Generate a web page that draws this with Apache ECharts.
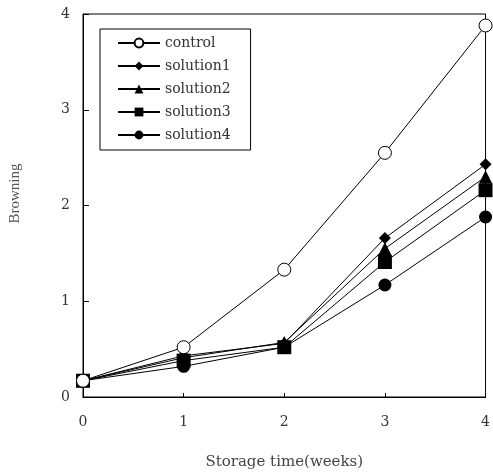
<!DOCTYPE html>
<html><head><meta charset="utf-8">
<script src="https://cdn.jsdelivr.net/npm/echarts@6/dist/echarts.min.js"></script>
<style>html,body{margin:0;padding:0;background:#fff}#c{width:493px;height:475px}</style>
</head><body><div id="c"></div>
<script>
var weeks = [0, 1, 2, 3, 4];
var control = [0.17, 0.52, 1.33, 2.55, 3.88];
var solution1 = [0.17, 0.43, 0.56, 1.66, 2.43];
var solution2 = [0.17, 0.41, 0.57, 1.55, 2.30];
var solution3 = [0.17, 0.38, 0.52, 1.41, 2.16];
var solution4 = [0.17, 0.32, 0.52, 1.17, 1.88];
var seriesNames = ['control', 'solution1', 'solution2', 'solution3', 'solution4'];
var seriesValues = [control, solution1, solution2, solution3, solution4];
var symbols = ['circle', 'diamond', 'triangle', 'rect', 'circle'];
var symbolSizes = [13, 12, 13, 14, 13];

var font = 'DejaVu Serif';
var chart = echarts.init(document.getElementById('c'));
var series = seriesNames.map(function (n, i) {
  return {
    name: n, type: 'line',
    data: weeks.map(function (w, j) { return [w, seriesValues[i][j]]; }),
    symbol: symbols[i], symbolSize: symbolSizes[i], showAllSymbol: true,
    lineStyle: { color: '#000', width: 1 },
    itemStyle: i === 0 ? { color: '#fff', borderColor: '#000', borderWidth: 1 } : { color: '#000', borderColor: '#000', borderWidth: 0 },
    z: 10 - i, animation: false
  };
});
chart.setOption({
  animation: false,
  grid: { left: 82, right: 6, top: 14, bottom: 70, show: true, borderColor: '#000', borderWidth: 1 },
  legend: {
    orient: 'vertical', left: 100, top: 29, data: seriesNames,
    borderColor: '#000', borderWidth: 1, padding: [7, 20, 8, 17],
    itemWidth: 42, itemHeight: 11, itemGap: 9,
    textStyle: { fontFamily: font, fontSize: 14, color: '#333' },
    backgroundColor: '#fff'
  },
  xAxis: {
    type: 'value', min: 0, max: 4, interval: 1,
    name: 'Storage time(weeks)', nameLocation: 'middle', nameGap: 58,
    nameTextStyle: { fontFamily: font, fontSize: 15, color: '#444' },
    axisLine: { show: true, lineStyle: { color: '#000', width: 1 } },
    axisTick: { show: true, inside: true, length: 4, lineStyle: { color: '#000' } },
    axisLabel: { fontFamily: font, fontSize: 14, color: '#333', margin: 18 },
    splitLine: { show: false }
  },
  yAxis: {
    type: 'value', min: 0, max: 4, interval: 1,
    name: 'Browning', nameLocation: 'middle', nameGap: 60,
    nameTextStyle: { fontFamily: 'Liberation Serif', fontSize: 15, color: '#555', padding: [0, 0, 0, 24] },
    axisLine: { show: true, lineStyle: { color: '#000', width: 1 } },
    axisTick: { show: true, inside: true, length: 6, lineStyle: { color: '#000' } },
    axisLabel: { fontFamily: font, fontSize: 14, color: '#333', margin: 13 },
    splitLine: { show: false }
  },
  series: series
});
</script></body></html>
